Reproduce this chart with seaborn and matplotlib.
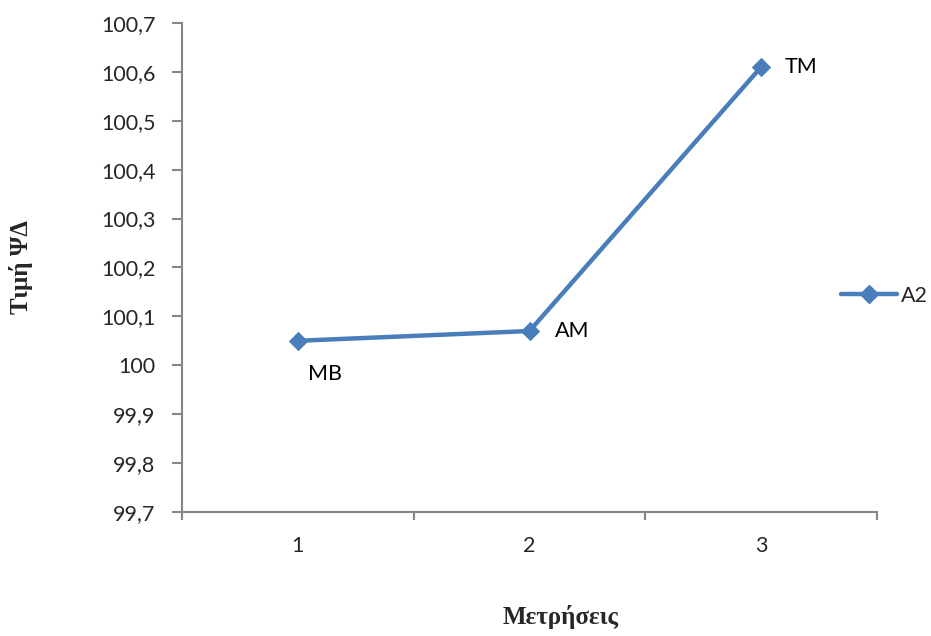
import matplotlib
matplotlib.use("Agg")
import matplotlib.pyplot as plt
import seaborn as sns
import pandas as pd
from matplotlib.ticker import FuncFormatter, FixedLocator, MultipleLocator
from matplotlib.lines import Line2D

categories = [1, 2, 3]
values = [100.05, 100.07, 100.61]
point_labels = ["MB", "AM", "TM"]
series_name = "A2"
x_title = "Μετρήσεις"
y_title = "Τιμή ΨΔ"

sns.set_style("white")
plt.rcParams['font.family'] = ['Lato', 'DejaVu Sans']

color = "#4A7EBB"
df = pd.DataFrame({"x": categories, "y": values})

fig = plt.figure(figsize=(9.31, 6.36), dpi=100)
ax = fig.add_axes([0.1955, 0.195, 0.7465, 0.769])
sns.lineplot(data=df, x="x", y="y", ax=ax, color=color, linewidth=3.2,
             marker="D", markersize=9, markeredgecolor=color, legend=False)


def fmt(v, p):
    s = f"{v:.1f}".replace(".", ",")
    if s.endswith(",0"):
        s = s[:-2]
    return s


ax.set_xlim(0.5, 3.5)
ax.set_ylim(99.7, 100.7)
ax.yaxis.set_major_locator(MultipleLocator(0.1))
ax.yaxis.set_major_formatter(FuncFormatter(fmt))
ax.set_xticks(categories)
ax.set_xticklabels([str(c) for c in categories])
ax.xaxis.set_minor_locator(FixedLocator([0.5, 1.5, 2.5, 3.5]))
ax.tick_params(axis="x", which="major", length=0, pad=17, labelsize=15.5)
ax.tick_params(axis="x", which="minor", length=6, width=1.5, color="#868686", direction="out", bottom=True)
ax.tick_params(axis="y", which="major", length=7, width=1.5, color="#868686", direction="out", left=True, labelsize=15.5, pad=12)

for s in ["top", "right"]:
    ax.spines[s].set_visible(False)
for s in ["left", "bottom"]:
    ax.spines[s].set_color("#868686")
    ax.spines[s].set_linewidth(1.5)

offsets = [(7, -24, "left"), (18, 0, "left"), (17, 0, "left")]
for xv, yv, lab, (dx, dy, ha) in zip(categories, values, point_labels, offsets):
    ax.annotate(lab, (xv, yv), xytext=(dx, dy), textcoords="offset points",
                ha=ha, va="center", fontsize=15.5, color="black")

ax.set_xlabel(x_title, fontsize=18, fontweight="bold", family="Liberation Serif")
ax.set_ylabel(y_title, fontsize=18, fontweight="bold", family="Liberation Serif")
ax.xaxis.set_label_coords(0.545, -0.19)
ax.yaxis.set_label_coords(-0.215, 0.5)

handle = Line2D([0], [0], color=color, linewidth=3.2, marker="D", markersize=9)
leg = fig.legend([handle], [series_name], loc="center left", bbox_to_anchor=(0.894, 0.535),
                 frameon=False, fontsize=15.5, handlelength=2.6, handletextpad=0.2, borderaxespad=0)

fig.savefig("out.png", dpi=100)
